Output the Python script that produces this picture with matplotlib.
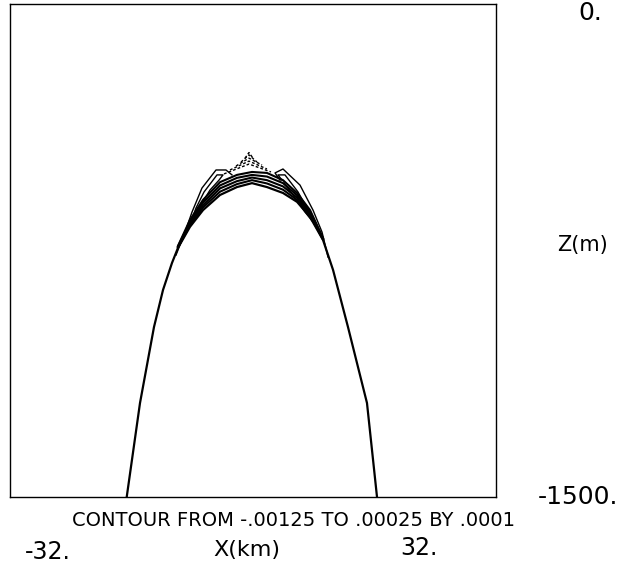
import matplotlib
matplotlib.use("Agg")
import matplotlib.pyplot as plt

# main outer contour (x in km, z in m)
main_x = [-16.63, -14.88, -13.04, -11.85, -10.67, -9.88, -8.30, -6.58, -4.34, -2.11,
          -0.13, 1.84, 3.95, 5.80, 7.51, 9.22, 10.54, 12.51, 15.01, 16.33]
main_z = [-1500, -1214, -983, -870, -788, -742, -678, -627, -581, -557,
          -545, -557, -575, -602, -648, -718, -809, -983, -1214, -1500]

# tightly packed contours over the crest
band_x = [-9.88, -8.30, -6.58, -4.34, -2.11, -0.13, 1.84, 3.95, 5.80, 7.51, 9.22]
band_z1 = [-741, -673, -619, -571, -548, -536, -546, -565, -596, -643, -717]
band_z2 = [-739, -668, -612, -561, -539, -528, -536, -555, -589, -637, -715]
band_z3 = [-738, -663, -604, -552, -529, -520, -525, -545, -582, -632, -714]
band_z4 = [-736, -657, -596, -542, -520, -511, -514, -536, -575, -627, -712]

# side lobes
lobe_l_out_x = [-10.14, -8.95, -8.03, -6.72, -4.87, -3.56, -2.77]
lobe_l_out_z = [-764, -694, -633, -560, -505, -505, -520]
lobe_l_in_x = [-8.30, -7.51, -6.45, -4.74, -3.95, -4.48, -5.66, -6.72, -7.51]
lobe_l_in_z = [-672, -621, -572, -520, -520, -536, -566, -606, -651]
lobe_r_out_x = [3.56, 2.90, 3.95, 6.19, 7.90, 9.09, 9.88]
lobe_r_out_z = [-536, -514, -502, -551, -627, -694, -770]
lobe_r_in_x = [3.82, 3.29, 4.21, 5.93, 7.24, 8.43, 6.85, 5.27, 4.08]
lobe_r_in_z = [-536, -520, -520, -572, -627, -679, -633, -581, -545]

# dashed (negative) contours at the top: left end, apex, right end
dash_x = [[-1.05, -0.53, 0.00], [-1.58, -0.53, 0.53], [-2.24, -0.53, 1.19],
          [-3.03, -0.53, 1.84], [-3.82, -0.53, 2.37]]
dash_z = [[-469, -452, -469], [-481, -459, -481], [-493, -469, -490],
          [-505, -478, -502], [-517, -487, -511]]

W, H = 632, 568
fig = plt.figure(figsize=(W / 100, H / 100), dpi=100)
ax = fig.add_axes([10 / W, (H - 497) / H, 486 / W, 493 / H])
ax.set_xlim(-32, 32)
ax.set_ylim(-1500, 0)
ax.set_xticks([])
ax.set_yticks([])
for s in ax.spines.values():
    s.set_linewidth(1.0)

ax.plot(main_x, main_z, color="black", lw=1.6)
for bz in (band_z1, band_z2, band_z3, band_z4):
    ax.plot(band_x, bz, color="black", lw=1.5)
ax.plot(lobe_l_out_x, lobe_l_out_z, color="black", lw=1.0)
ax.plot(lobe_l_in_x, lobe_l_in_z, color="black", lw=1.0)
ax.plot(lobe_r_out_x, lobe_r_out_z, color="black", lw=1.0)
ax.plot(lobe_r_in_x, lobe_r_in_z, color="black", lw=1.0)
for dx, dz in zip(dash_x, dash_z):
    ax.plot(dx, dz, color="black", lw=1.0, ls=(0, (2, 1.5)))


def px(x, y):
    return x / W, 1 - y / H


fig.text(*px(590, 13), "0.", fontsize=18, ha="center", va="center")
fig.text(*px(583, 245), "Z(m)", fontsize=15, ha="center", va="center")
fig.text(*px(578, 497), "-1500.", fontsize=18, ha="center", va="center")
fig.text(*px(293, 520), "CONTOUR FROM -.00125 TO .00025 BY .0001",
         fontsize=14, ha="center", va="center")
fig.text(*px(48, 552), "-32.", fontsize=17, ha="center", va="center")
fig.text(*px(247, 550), "X(km)", fontsize=16, ha="center", va="center")
fig.text(*px(419, 548), "32.", fontsize=17, ha="center", va="center")

fig.savefig("out.png", dpi=100)
